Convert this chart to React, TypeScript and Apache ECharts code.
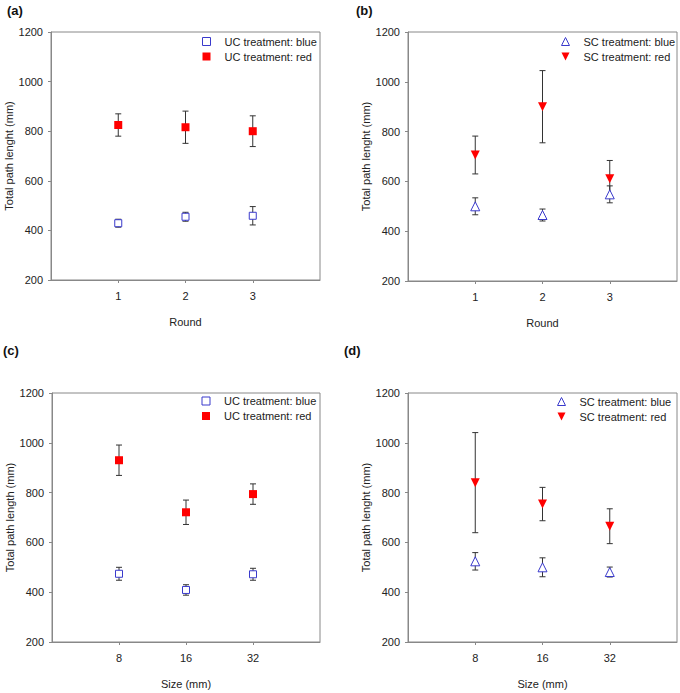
import React, { useEffect, useRef } from "react";
import * as echarts from "echarts";

const FONT = 'Arial, "Liberation Sans", sans-serif';

// Tick labels
const roundLabels = ["1", "2", "3"];
const sizeLabels = ["8", "16", "32"];
const yTicks = { min: 200, max: 1200, step: 200 };

// (a) UC by round
const ucRoundBlue = [429, 455, 459];
const ucRoundBlueErr = [16, 18, 37];
const ucRoundRed = [825, 816, 800];
const ucRoundRedErr = [45, 65, 62];

// (b) SC by round
const scRoundBlue = [500, 465, 548];
const scRoundBlueErr = [34, 24, 34];
const scRoundRed = [706, 900, 611];
const scRoundRedErr = [76, 145, 73];

// (c) UC by size
const ucSizeBlue = [474, 409, 472];
const ucSizeBlueErr = [26, 21, 24];
const ucSizeRed = [930, 721, 794];
const ucSizeRedErr = [61, 49, 41];

// (d) SC by size
const scSizeBlue = [524, 500, 481];
const scSizeBlueErr = [35, 38, 20];
const scSizeRed = [840, 754, 665];
const scSizeRedErr = [201, 67, 70];

const BLUE = "#3a3acc";
const RED = "#ff0000";
const ERR = "#333333";
const AXIS = "#888888";
const TXT = "#222222";

const DOWN_TRI = "path://M0,0L10,0L5,10Z";
const UP_TRI = "path://M5,0L10,10L0,10Z";
const SQUARE = "path://M0,0L10,0L10,10L0,10Z";

const panels = [
  {
    tag: "(a)", tagPos: { left: 7, top: 4 },
    grid: { left: 51, top: 32, width: 269, height: 248 },
    labels: roundLabels, xName: "Round", yName: "Total path lenght (mm)",
    kind: "UC", blue: ucRoundBlue, blueErr: ucRoundBlueErr, red: ucRoundRed, redErr: ucRoundRedErr,
    legend: { left: 202, top: 36 },
  },
  {
    tag: "(b)", tagPos: { left: 356, top: 4 },
    grid: { left: 408, top: 32, width: 269, height: 249 },
    labels: roundLabels, xName: "Round", yName: "Total path lenght (mm)",
    kind: "SC", blue: scRoundBlue, blueErr: scRoundBlueErr, red: scRoundRed, redErr: scRoundRedErr,
    legend: { left: 561, top: 36 },
  },
  {
    tag: "(c)", tagPos: { left: 3, top: 344 },
    grid: { left: 52, top: 393, width: 268, height: 249 },
    labels: sizeLabels, xName: "Size (mm)", yName: "Total path length (mm)",
    kind: "UC", blue: ucSizeBlue, blueErr: ucSizeBlueErr, red: ucSizeRed, redErr: ucSizeRedErr,
    legend: { left: 201.5, top: 395.5 },
  },
  {
    tag: "(d)", tagPos: { left: 344, top: 344 },
    grid: { left: 408, top: 393, width: 269, height: 249 },
    labels: sizeLabels, xName: "Size (mm)", yName: "Total path lenght (mm)",
    kind: "SC", blue: scSizeBlue, blueErr: scSizeBlueErr, red: scSizeRed, redErr: scSizeRedErr,
    legend: { left: 557, top: 396 },
  },
];

function errRenderItem(params: any, api: any) {
  const x = api.value(0);
  const lo = api.value(1);
  const hi = api.value(2);
  const top = api.coord([x, hi]);
  const bot = api.coord([x, lo]);
  const w = 3;
  const style = { stroke: ERR, lineWidth: 1 };
  return {
    type: "group",
    children: [
      { type: "line", shape: { x1: top[0], y1: top[1], x2: bot[0], y2: bot[1] }, style },
      { type: "line", shape: { x1: top[0] - w, y1: top[1], x2: top[0] + w, y2: top[1] }, style },
      { type: "line", shape: { x1: bot[0] - w, y1: bot[1], x2: bot[0] + w, y2: bot[1] }, style },
    ],
  };
}

function buildOption() {
  const grid: any[] = [];
  const xAxis: any[] = [];
  const yAxis: any[] = [];
  const series: any[] = [];
  const legend: any[] = [];
  const title: any[] = [];

  panels.forEach((p, i) => {
    grid.push({ ...p.grid, show: true, borderColor: AXIS, borderWidth: 1, backgroundColor: "transparent" });
    title.push({
      text: p.tag, left: p.tagPos.left, top: p.tagPos.top, padding: 0,
      textStyle: { fontFamily: FONT, fontSize: 13, fontWeight: "bold", color: "#111" },
    });
    xAxis.push({
      type: "value", gridIndex: i, min: 0, max: 4, interval: 1,
      axisLine: { show: true, lineStyle: { color: AXIS, width: 1 } },
      axisTick: { show: true, customValues: [1, 2, 3], length: 3, inside: false, lineStyle: { color: AXIS } },
      axisLabel: {
        customValues: [1, 2, 3],
        formatter: (v: number) => p.labels[Math.round(v) - 1] ?? "",
        fontFamily: FONT, fontSize: 11, color: TXT, margin: 10,
      },
      splitLine: { show: false },
      name: p.xName, nameLocation: "middle", nameGap: 36,
      nameTextStyle: { fontFamily: FONT, fontSize: 11, color: TXT },
    });
    yAxis.push({
      type: "value", gridIndex: i, min: yTicks.min, max: yTicks.max, interval: yTicks.step,
      axisLine: { show: true, lineStyle: { color: AXIS, width: 1 } },
      axisTick: { show: true, length: 3, lineStyle: { color: AXIS } },
      axisLabel: {
        fontFamily: FONT, fontSize: 11, color: TXT, margin: 8,
        formatter: (v: number) => String(v),
      },
      splitLine: { show: false },
      name: p.yName, nameLocation: "middle", nameGap: 36, nameRotate: 90,
      nameTextStyle: { fontFamily: FONT, fontSize: 11, color: TXT },
    });

    // unique series ids per panel; the "#n" suffix is stripped by the legend formatter
    const blueName = `${p.kind} treatment: blue#${i}`;
    const redName = `${p.kind} treatment: red#${i}`;
    const isUC = p.kind === "UC";
    const blueSymbol = isUC ? SQUARE : UP_TRI;
    const redSymbol = isUC ? SQUARE : DOWN_TRI;
    const blueStyle = { color: "#ffffff", borderColor: BLUE, borderWidth: 1, opacity: 1 };
    const redStyle = { color: RED, borderWidth: 0, opacity: 1 };

    series.push({
      type: "custom", name: `err-blue-${i}`, xAxisIndex: i, yAxisIndex: i,
      renderItem: errRenderItem, z: 2,
      encode: { x: 0, y: [1, 2] },
      data: p.blue.map((v, k) => [k + 1, v - p.blueErr[k], v + p.blueErr[k]]),
    });
    series.push({
      type: "custom", name: `err-red-${i}`, xAxisIndex: i, yAxisIndex: i,
      renderItem: errRenderItem, z: 2,
      encode: { x: 0, y: [1, 2] },
      data: p.red.map((v, k) => [k + 1, v - p.redErr[k], v + p.redErr[k]]),
    });
    series.push({
      type: "scatter", name: blueName, xAxisIndex: i, yAxisIndex: i, z: 3,
      symbol: blueSymbol,
      symbolSize: isUC ? 7 : 9,
      itemStyle: blueStyle,
      data: p.blue.map((v, k) => [k + 1, v]),
    });
    series.push({
      type: "scatter", name: redName, xAxisIndex: i, yAxisIndex: i, z: 3,
      symbol: redSymbol,
      symbolSize: isUC ? 8 : 9,
      itemStyle: redStyle,
      data: p.red.map((v, k) => [k + 1, v]),
    });

    legend.push({
      data: [
        { name: blueName, icon: blueSymbol, itemStyle: blueStyle },
        { name: redName, icon: redSymbol, itemStyle: redStyle },
      ],
      formatter: (name: string) => name.split("#")[0],
      orient: "vertical", left: p.legend.left, top: p.legend.top,
      padding: 0, itemGap: 4, itemWidth: 8, itemHeight: 8,
      selectedMode: false,
      textStyle: { fontFamily: FONT, fontSize: 11, color: TXT, padding: [0, 0, 0, 9] },
    });
  });

  return { animation: false, backgroundColor: "#ffffff", title, grid, xAxis, yAxis, series, legend };
}

export default function App() {
  const ref = useRef<HTMLDivElement>(null);
  useEffect(() => {
    if (!ref.current) return;
    const chart = echarts.init(ref.current, null, { renderer: "svg" });
    chart.setOption(buildOption() as any);
    return () => chart.dispose();
  }, []);
  return (
    <div
      ref={ref}
      style={{ position: "fixed", left: 0, top: 0, width: 680, height: 693, background: "#fff" }}
    />
  );
}
